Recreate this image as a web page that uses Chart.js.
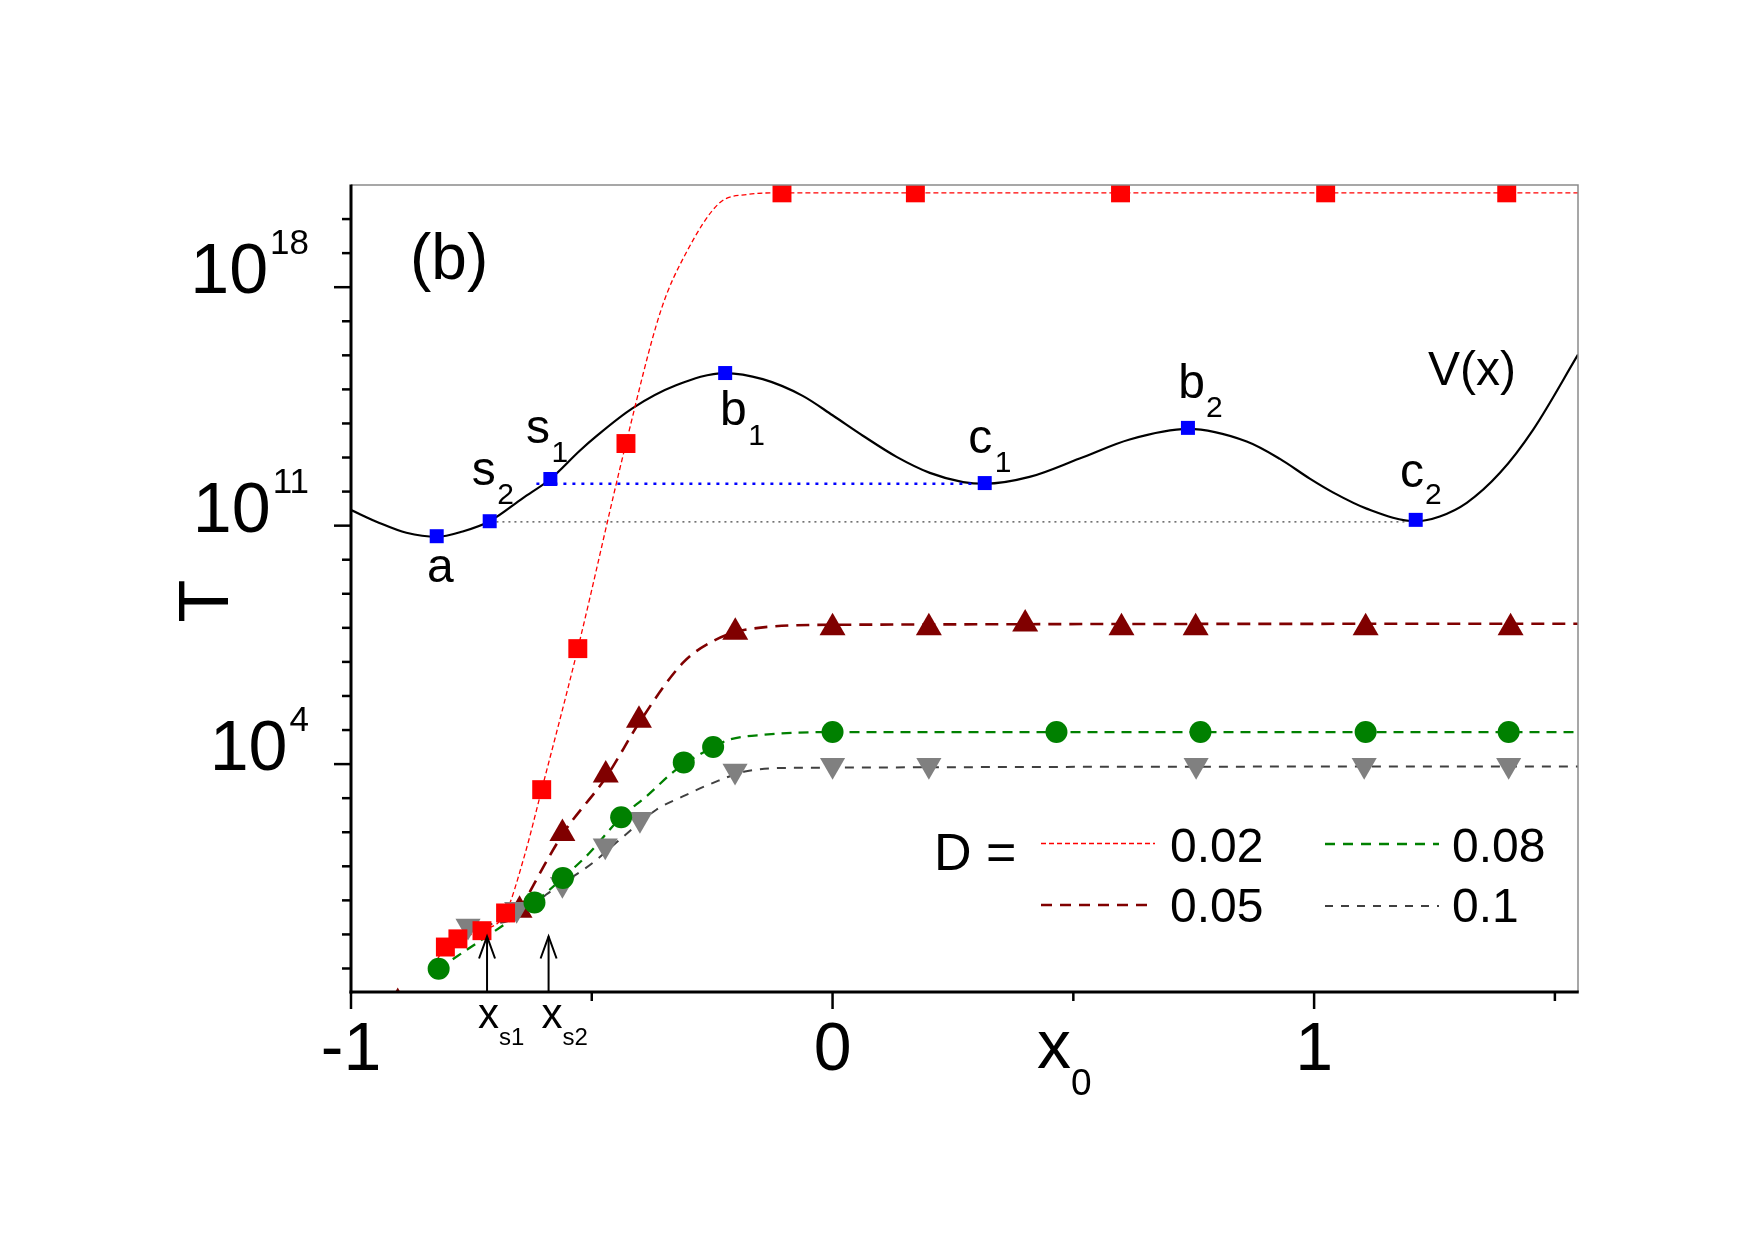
<!DOCTYPE html>
<html><head><meta charset="utf-8">
<script src="https://cdn.jsdelivr.net/npm/chart.js@4.4.1/dist/chart.umd.min.js"></script>
<style>html,body{margin:0;padding:0;background:#fff;}canvas{display:block;}</style>
</head><body>
<canvas id="c" width="1755" height="1241"></canvas>
<script>
const FONT = "'Liberation Sans', Arial, Helvetica, sans-serif";

// ---------- data: x0 and log10(T) ----------
// potential V(x) curve
const vX   = [-1.0,-0.941,-0.885,-0.822,-0.768,-0.712,-0.643,-0.586,-0.525,-0.491,-0.415,-0.325,-0.223,-0.145,-0.062,0.0,0.063,0.133,0.202,0.271,0.316,0.409,0.513,0.617,0.738,0.860,0.929,0.991,1.040,1.109,1.211,1.261,1.317,1.386,1.455,1.548];
const vLog = [11.46,11.08,10.79,10.67,10.83,11.13,11.81,12.37,13.20,13.62,14.45,15.12,15.48,15.30,14.81,14.24,13.64,13.02,12.55,12.28,12.23,12.43,12.97,13.53,13.84,13.47,12.96,12.38,11.97,11.50,11.13,11.27,11.67,12.55,13.82,16.02];
// critical points on V(x)
const critNames = ['a','s2','s1','b1','c1','b2','c2'];
const critX   = [-0.822,-0.712,-0.586,-0.223,0.316,0.738,1.211];
const critLog = [10.69,11.13,12.37,15.48,12.25,13.87,11.17];
// horizontal level lines
const levelS1X = [-0.615, 0.30];  const levelS1Log = [12.23, 12.23];
const levelS2X = [-0.698, 1.192]; const levelS2Log = [11.11, 11.11];

// D = 0.02 (red squares) and its fit
const d002X   = [-0.804,-0.778,-0.728,-0.679,-0.604,-0.529,-0.429,-0.105,0.172,0.598,1.024,1.400];
const d002Log = [-1.37,-1.13,-0.89,-0.37,3.25,7.39,13.41,20.77,20.77,20.77,20.77,20.77];
const fit002X   = [-0.83,-0.804,-0.778,-0.728,-0.679,-0.640,-0.604,-0.529,-0.429,-0.356,-0.304,-0.235,-0.179,-0.105,1.548];
const fit002Log = [-1.95,-1.37,-1.13,-0.89,-0.37,1.30,3.25,7.39,13.41,17.34,19.01,20.47,20.72,20.77,20.77];

// D = 0.05 (dark red triangles) and its fit
const d005X   = [-0.903,-0.650,-0.561,-0.471,-0.402,-0.202,0.0,0.200,0.400,0.600,0.754,1.107,1.408];
const d005Log = [-3.0,-0.29,1.96,3.68,5.29,7.87,8.0,8.0,8.11,8.0,8.0,8.0,8.0];
const fit005X   = [-0.65,-0.56,-0.47,-0.40,-0.311,-0.255,-0.179,0.0,1.548];
const fit005Log = [-0.29,1.95,3.62,5.25,6.97,7.56,7.95,8.09,8.12];

// D = 0.08 (green circles) and its fit
const d008X   = [-0.818,-0.619,-0.560,-0.439,-0.309,-0.248,0.0,0.465,0.764,1.107,1.404];
const d008Log = [-2.01,-0.06,0.66,2.44,4.05,4.50,4.94,4.94,4.94,4.94,4.94];
const fit008X   = [-0.818,-0.619,-0.56,-0.505,-0.439,-0.387,-0.3245,-0.248,-0.214,-0.145,0.0,1.548];
const fit008Log = [-2.01,-0.06,0.66,1.39,2.44,3.05,3.84,4.50,4.72,4.86,4.94,4.94];

// D = 0.1 (grey down triangles) and its fit
const d01X   = [-0.757,-0.656,-0.561,-0.472,-0.400,-0.2025,0.0,0.200,0.755,1.104,1.404];
const d01Log = [-0.75,-0.26,0.47,1.60,2.38,3.80,3.97,3.97,3.97,3.97,3.97];
const fit01X   = [-0.76,-0.65,-0.5945,-0.498,-0.442,-0.366,-0.311,-0.248,-0.179,-0.075,1.548];
const fit01Log = [-0.80,-0.47,0.17,1.10,1.78,2.66,3.05,3.45,3.79,3.89,3.93];

// arrows marking x_s1, x_s2
const arrowX = [-0.7175, -0.5897];
const arrowTipLog = -1.06;

// axes
const xMin = -1, xMax = 1.548;
const yMinLog = -2.69, yMaxLog = 21;
const yMajorLog = [18, 11, 4];
const yMinorLog = [-2,-1,0,1,2,3,5,6,7,8,9,10,12,13,14,15,16,17,19,20];
const xMajor = [-1, 0, 1];
const xMajorLabels = ['-1', '0', '1'];
const xMinor = [-0.5, 0.5, 1.5];
const legendLabels = ['0.02', '0.05', '0.08', '0.1'];

// ---------- helpers ----------
const pts = (xa, la) => xa.map((x, i) => ({x: x, y: Math.pow(10, la[i])}));

const RED = '#ff0000', BROWN = '#800000', GREEN = '#008000', GREY = '#808080', GREYLINE = '#404040', BLUE = '#0000ff';

const fitLine = (data, color, width, dash, order) => ({
  data, borderColor: color, borderWidth: width, borderDash: dash, pointRadius: 0,
  cubicInterpolationMode: 'monotone', fill: false, order
});
const markers = (data, color, style, radius, order, rot) => ({
  data, showLine: false, pointStyle: style, pointRadius: radius, pointRotation: rot || 0,
  pointBackgroundColor: color, pointBorderColor: color, pointBorderWidth: 0,
  backgroundColor: color, borderColor: color, order
});

const datasets = [
  fitLine(pts(vX, vLog), '#000', 2.2, [], 20),
  fitLine(pts(levelS1X, levelS1Log), BLUE, 2.5, [3, 6], 19),
  fitLine(pts(levelS2X, levelS2Log), '#444', 1.4, [2, 4], 19),
  fitLine(pts(fit002X, fit002Log), RED, 1.3, [5, 3], 15),
  fitLine(pts(fit005X, fit005Log), BROWN, 2.6, [13, 8], 16),
  fitLine(pts(fit008X, fit008Log), GREEN, 2.3, [10, 7], 17),
  fitLine(pts(fit01X, fit01Log), GREYLINE, 2.0, [9, 8], 18),
  markers(pts(critX, critLog), BLUE, 'rect', 9.9, 6),
  markers(pts(d005X, d005Log), BROWN, 'triangle', 15, 5),
  markers(pts(d01X, d01Log), GREY, 'triangle', 14.5, 4, 180),
  markers(pts(d008X, d008Log), GREEN, 'circle', 11, 3),
  markers(pts(d002X, d002Log), RED, 'rect', 13.4, 2)
];

function subText(ctx, main, sub, x, y, mainSize, subSize, drop, gap) {
  ctx.font = mainSize + 'px ' + FONT;
  ctx.textAlign = 'left';
  ctx.textBaseline = 'alphabetic';
  ctx.fillText(main, x, y);
  const w = ctx.measureText(main).width;
  if (sub) {
    ctx.font = subSize + 'px ' + FONT;
    ctx.fillText(sub, x + w + gap, y + drop);
  }
}

const decor = {
  id: 'decor',
  afterDraw(chart) {
    const ctx = chart.ctx, xs = chart.scales.x, ys = chart.scales.y, a = chart.chartArea;
    const px = v => xs.getPixelForValue(v);
    const py = e => ys.getPixelForValue(Math.pow(10, e));
    ctx.save();
    ctx.fillStyle = '#000';
    // frame top/right
    ctx.setLineDash([]);
    ctx.strokeStyle = '#8a8a8a'; ctx.lineWidth = 1.5;
    ctx.beginPath(); ctx.moveTo(a.left, a.top); ctx.lineTo(a.right, a.top); ctx.lineTo(a.right, a.bottom); ctx.stroke();
    // axes
    ctx.strokeStyle = '#000'; ctx.lineWidth = 3;
    ctx.beginPath(); ctx.moveTo(a.left, a.top - 0.5); ctx.lineTo(a.left, a.bottom + 1.5); ctx.stroke();
    ctx.beginPath(); ctx.moveTo(a.left - 1.5, a.bottom); ctx.lineTo(a.right + 0.75, a.bottom); ctx.stroke();
    // y ticks
    ctx.lineWidth = 2.5;
    yMajorLog.forEach(e => { const y = py(e); ctx.beginPath(); ctx.moveTo(a.left, y); ctx.lineTo(a.left - 17, y); ctx.stroke(); });
    yMinorLog.forEach(e => { const y = py(e); ctx.beginPath(); ctx.moveTo(a.left, y); ctx.lineTo(a.left - 9, y); ctx.stroke(); });
    // x ticks
    xMajor.forEach(v => { const x = px(v); ctx.beginPath(); ctx.moveTo(x, a.bottom); ctx.lineTo(x, a.bottom + 17); ctx.stroke(); });
    xMinor.forEach(v => { const x = px(v); ctx.beginPath(); ctx.moveTo(x, a.bottom); ctx.lineTo(x, a.bottom + 9); ctx.stroke(); });

    // y tick labels 10^n
    yMajorLog.forEach(e => {
      const y = py(e);
      const R = 309;
      ctx.font = '35px ' + FONT; ctx.textAlign = 'left'; ctx.textBaseline = 'alphabetic';
      const supW = ctx.measureText(String(e)).width;
      ctx.fillText(String(e), R - supW, y - 33);
      ctx.font = '70px ' + FONT; ctx.textAlign = 'right';
      ctx.fillText('10', R - supW - 2, y + 6);
    });
    // x tick labels
    ctx.font = '68px ' + FONT; ctx.textAlign = 'center'; ctx.textBaseline = 'alphabetic';
    xMajor.forEach((v, i) => ctx.fillText(xMajorLabels[i], px(v), 1070));

    // axis titles
    subText(ctx, 'x', '0', 1037, 1068, 68, 37, 27, 0);
    ctx.save();
    ctx.translate(228, 601); ctx.rotate(-Math.PI / 2);
    ctx.font = '70px ' + FONT; ctx.textAlign = 'center'; ctx.textBaseline = 'alphabetic';
    ctx.fillText('T', 0, 0);
    ctx.restore();

    // arrows x_s1, x_s2
    ctx.lineWidth = 2; ctx.strokeStyle = '#000';
    arrowX.forEach(v => {
      const x = px(v), tip = py(arrowTipLog);
      ctx.beginPath(); ctx.moveTo(x, a.bottom); ctx.lineTo(x, tip); ctx.stroke();
      ctx.beginPath(); ctx.moveTo(x - 8, tip + 22); ctx.lineTo(x, tip); ctx.lineTo(x + 8, tip + 22); ctx.stroke();
    });
    subText(ctx, 'x', 's1', 478, 1028, 42, 24, 17, 0);
    subText(ctx, 'x', 's2', 541.5, 1028, 42, 24, 17, 0);

    // panel label and V(x)
    ctx.font = '64px ' + FONT; ctx.textAlign = 'left';
    ctx.fillText('(b)', 410, 279);
    ctx.font = '48px ' + FONT;
    ctx.fillText('V(x)', 1428, 385);

    // critical point labels
    subText(ctx, 'a', '', 427, 582, 48, 30, 0, 0);
    subText(ctx, 's', '2', 471.7, 485, 48, 30, 18.5, 1.5);
    subText(ctx, 's', '1', 526, 443.3, 48, 30, 18.5, 1.5);
    subText(ctx, 'b', '1', 720, 425, 48, 30, 20, 1.5);
    subText(ctx, 'c', '1', 968.3, 453, 48, 30, 18.7, 2.5);
    subText(ctx, 'b', '2', 1178.3, 398, 48, 30, 19.3, 1);
    subText(ctx, 'c', '2', 1400, 486.7, 48, 30, 17.5, 1);

    // legend
    ctx.font = '52px ' + FONT; ctx.textAlign = 'left';
    ctx.fillText('D =', 934, 870);
    const leg = [
      {c: RED, w: 1.3, d: [5, 3], x: 1041, y: 843.5, lx: 1170, ly: 862},
      {c: BROWN, w: 2.6, d: [11, 8], x: 1041, y: 905, lx: 1170, ly: 922},
      {c: GREEN, w: 2.3, d: [10, 8], x: 1325, y: 844, lx: 1452, ly: 862},
      {c: GREYLINE, w: 2.0, d: [8, 8], x: 1325, y: 906, lx: 1452, ly: 922}
    ];
    leg.forEach((g, i) => {
      ctx.strokeStyle = g.c; ctx.lineWidth = g.w; ctx.setLineDash(g.d);
      ctx.beginPath(); ctx.moveTo(g.x, g.y); ctx.lineTo(g.x + 114, g.y); ctx.stroke();
      ctx.setLineDash([]);
      ctx.font = '48px ' + FONT; ctx.fillStyle = '#000';
      ctx.fillText(legendLabels[i], g.lx, g.ly);
    });
    ctx.restore();
  }
};

new Chart(document.getElementById('c'), {
  type: 'line',
  data: {datasets},
  options: {
    responsive: false,
    animation: false,
    devicePixelRatio: 1,
    parsing: true,
    layout: {padding: {left: 351, right: 177, top: 185, bottom: 249}},
    plugins: {legend: {display: false}, tooltip: {enabled: false}},
    elements: {line: {tension: 0}},
    scales: {
      x: {type: 'linear', min: xMin, max: xMax, display: false},
      y: {type: 'logarithmic', min: Math.pow(10, yMinLog), max: Math.pow(10, yMaxLog), display: false}
    }
  },
  plugins: [decor]
});
</script>
</body></html>
